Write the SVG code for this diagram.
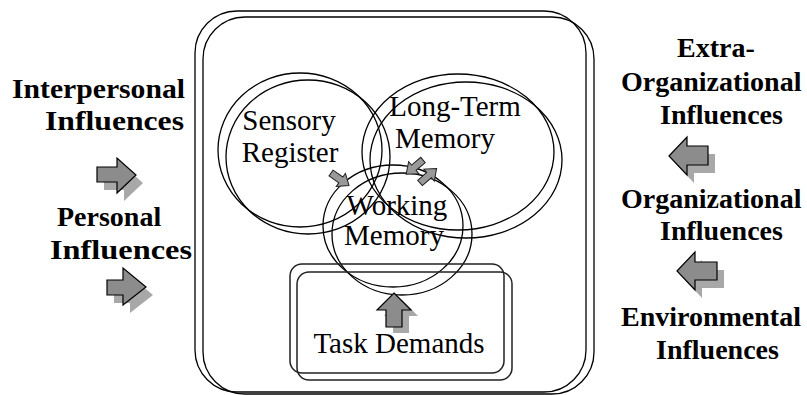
<svg xmlns="http://www.w3.org/2000/svg" width="807" height="395" viewBox="0 0 807 395">
  <style>
    .line { fill: none; stroke: #000; stroke-width: 1.3; }
    .box { fill: none; stroke: #222; stroke-width: 1.5; }
    .lbl { font-family: "Liberation Serif", "Times New Roman", serif; font-size: 29px; fill: #000; }
    .bold { font-family: "Liberation Serif", "Times New Roman", serif; font-size: 28px; font-weight: bold; fill: #000; }
    .arrow { fill: #8c8c8c; stroke: #000; stroke-width: 1.2; stroke-linejoin: miter; }
    .shadow { fill: #a8a8a8; stroke: none; }
    .small { fill: #999; stroke: #222; stroke-width: 1; }
  </style>
  <defs>
    <path id="smallArrow" d="M0,-3.5 H12 V-8 L22,0 L12,8 V3.5 H0 Z"/>
  </defs>

  <rect width="807" height="395" fill="#fff"/>

  <!-- outer frame drawn as a double line -->
  <g id="frame">
    <rect class="line" x="195" y="11" width="391" height="381" rx="42" ry="42"/>
    <rect class="line" x="203" y="17" width="391" height="377" rx="42" ry="42"/>
  </g>

  <g id="sensory-register">
    <ellipse class="line" cx="300" cy="150" rx="82" ry="77"/>
    <ellipse class="line" cx="308" cy="157" rx="82" ry="77"/>
    <text class="lbl" x="289" y="130" text-anchor="middle">Sensory</text>
    <text class="lbl" x="290" y="162" text-anchor="middle">Register</text>
  </g>

  <g id="long-term-memory">
    <ellipse class="line" cx="458" cy="152" rx="96" ry="78"/>
    <ellipse class="line" cx="466" cy="160" rx="96" ry="78"/>
    <text class="lbl" x="455" y="116" text-anchor="middle">Long-Term</text>
    <text class="lbl" x="445" y="148" text-anchor="middle">Memory</text>
  </g>

  <g id="working-memory">
    <ellipse class="line" cx="393" cy="226" rx="70" ry="61"/>
    <ellipse class="line" cx="402" cy="234" rx="70" ry="61"/>
    <text class="lbl" x="397" y="215" text-anchor="middle">Working</text>
    <text class="lbl" x="394" y="245" text-anchor="middle">Memory</text>
  </g>

  <g id="task-demands">
    <rect class="box" x="290" y="264" width="214" height="109" rx="12" ry="12"/>
    <rect class="box" x="297" y="272" width="215" height="108" rx="12" ry="12"/>
    <text class="lbl" x="399" y="353" text-anchor="middle">Task Demands</text>
  </g>

  <g id="interpersonal-influences">
    <text class="bold" x="12" y="98" textLength="173" lengthAdjust="spacingAndGlyphs">Interpersonal</text>
    <text class="bold" x="45" y="130" textLength="139" lengthAdjust="spacingAndGlyphs">Influences</text>
  </g>

  <g id="personal-influences">
    <text class="bold" x="57" y="226">Personal</text>
    <text class="bold" x="50" y="259" textLength="142" lengthAdjust="spacingAndGlyphs">Influences</text>
  </g>

  <g id="extra-organizational-influences">
    <text class="bold" x="677" y="57">Extra-</text>
    <text class="bold" x="621" y="91">Organizational</text>
    <text class="bold" x="660" y="124">Influences</text>
  </g>

  <g id="organizational-influences">
    <text class="bold" x="621" y="208">Organizational</text>
    <text class="bold" x="660" y="240">Influences</text>
  </g>

  <g id="environmental-influences">
    <text class="bold" x="621" y="326">Environmental</text>
    <text class="bold" x="656" y="359">Influences</text>
  </g>

  <!-- connectors: block arrows with drop shadows, small flow arrows -->
  <g id="connectors">
    <path class="shadow" transform="translate(7,8)" d="M97,167 H117 V158 L136,175 L117,193 V182 H97 Z"/>
    <path class="arrow" d="M97,167 H117 V158 L136,175 L117,193 V182 H97 Z"/>

    <path class="shadow" transform="translate(7,8)" d="M107,280 H123 V268 L146,287 L123,305 V295 H107 Z"/>
    <path class="arrow" d="M107,280 H123 V268 L146,287 L123,305 V295 H107 Z"/>

    <path class="shadow" transform="translate(7,8)" d="M669,156 L687,137 V146 H708 V165 H687 V175 Z"/>
    <path class="arrow" d="M669,156 L687,137 V146 H708 V165 H687 V175 Z"/>

    <path class="shadow" transform="translate(7,8)" d="M677,271 L695,252 V262 H717 V280 H695 V290 Z"/>
    <path class="arrow" d="M677,271 L695,252 V262 H717 V280 H695 V290 Z"/>

    <path class="shadow" transform="translate(7,6)" d="M394,293 L411,310 H402 V327 H386 V310 H377 Z"/>
    <path class="arrow" d="M394,293 L411,310 H402 V327 H386 V310 H377 Z"/>

    <use href="#smallArrow" class="small" transform="translate(331,173) rotate(35)"/>
    <use href="#smallArrow" class="small" transform="translate(423,160) rotate(140)"/>
    <use href="#smallArrow" class="small" transform="translate(420,183) rotate(-41)"/>
  </g>
</svg>
